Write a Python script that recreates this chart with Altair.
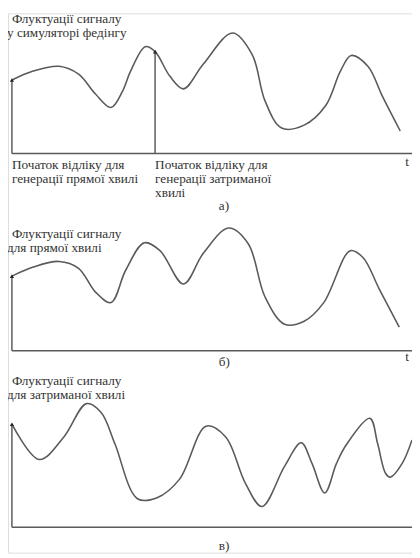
import altair as alt
import pandas as pd

# ---- data (t: time units from axis origin, amp: signal level above axis) ----
a_t   = [0, 21, 48, 68, 85, 101, 113, 121, 136, 146, 161, 175, 195, 225, 245, 258, 275, 298, 320, 335, 346, 363, 378, 396]
a_amp = [75, 84, 89, 81, 61, 47, 64, 84, 109, 104, 79, 66, 91, 123, 101, 54, 26, 29, 49, 84, 100, 89, 58, 23]

b_t   = [0, 21, 48, 68, 85, 101, 116, 135, 151, 175, 195, 221, 241, 258, 278, 298, 318, 345, 358, 375, 395]
b_amp = [76, 85, 91, 84, 60, 49, 82, 110, 102, 68, 99, 125, 109, 55, 27, 30, 49, 102, 95, 62, 24]

c_t   = [0, 28, 53, 76, 91, 105, 128, 148, 171, 198, 218, 238, 255, 278, 295, 306, 319, 331, 341, 365, 373, 381, 386, 398, 408]
c_amp = [105, 69, 92, 126, 117, 85, 29, 30, 49, 103, 92, 45, 21, 62, 86, 65, 35, 65, 84, 111, 85, 55, 51, 65, 89]

panels = ["a", "b", "c"]
titles = {
    "a": ["Флуктуації сигналу", "у симуляторі федінгу"],
    "b": ["Флуктуації сигналу", "для прямої хвилі"],
    "c": ["Флуктуації сигналу", "для затриманої хвилі"],
}
captions = {"a": "а)", "b": "б)", "c": "в)"}
note_direct = ["Початок відліку для", "генерації прямої хвилі"]
note_delayed = ["Початок відліку для", "генерації  затриманої", "хвилі"]
delay_start_t = 146      # start of delayed wave in panel a
t_end = 408

# ---- layout (page-like units; y measured upward from the bottom of the figure) ----
H = 550
base = {"a": 558 - 151, "b": 558 - 352, "c": 558 - 532}   # axis level of each panel

curve_rows = []
for p, ts, amps in (("a", a_t, a_amp), ("b", b_t, b_amp), ("c", c_t, c_amp)):
    for t, v in zip(ts, amps):
        curve_rows.append({"panel": p, "t": t, "y": base[p] + v})
curves = pd.DataFrame(curve_rows)

axis_rows = []
vert_rows = []
for p, ts, amps in (("a", a_t, a_amp), ("b", b_t, b_amp), ("c", c_t, c_amp)):
    axis_rows.append({"panel": p, "t": 0, "t2": t_end + 4, "y": base[p]})
    vert_rows.append({"panel": p, "t": 0, "y": base[p], "y2": base[p] + amps[0]})
vert_rows.append({"panel": "a", "t": delay_start_t, "y": base["a"],
                  "y2": base["a"] + a_amp[a_t.index(delay_start_t)]})
axes_h = pd.DataFrame(axis_rows)
axes_v = pd.DataFrame(vert_rows)

text_rows = []
title_y = {"a": 558 - 14, "b": 558 - 233, "c": 558 - 383}
for p in panels:
    for i, line in enumerate(titles[p]):
        text_rows.append({"t": (0 if i == 0 else -5), "y": title_y[p] - 14 * i, "text": line})
for i, line in enumerate(note_direct):
    text_rows.append({"t": 0, "y": 558 - 163 - 14 * i, "text": line})
for i, line in enumerate(note_delayed):
    text_rows.append({"t": delay_start_t, "y": 558 - 163 - 14 * i, "text": line})
cap_y = {"a": 558 - 205, "b": 558 - 364, "c": 558 - 551}
cap_rows = [{"t": 211, "y": cap_y[p], "text": captions[p]} for p in panels]
t_rows = [{"t": 401, "y": 558 - 160, "text": "t"}, {"t": 401, "y": 558 - 359, "text": "t"}]
texts = pd.DataFrame(text_rows + cap_rows + t_rows)

xs = alt.Scale(domain=[-4, t_end], nice=False, zero=False)
ys = alt.Scale(domain=[0, H], nice=False, zero=False)
X = lambda f: alt.X(f, type="quantitative", scale=xs, axis=None)
Y = lambda f: alt.Y(f, type="quantitative", scale=ys, axis=None)

GRAY = "#5a5a5a"
FONT = "Times New Roman"

curve_layer = alt.Chart(curves).mark_line(
    interpolate="catmull-rom", color=GRAY, strokeWidth=1.6
).encode(x=X("t"), y=Y("y"), detail="panel:N")

h_layer = alt.Chart(axes_h).mark_rule(color=GRAY, strokeWidth=1.5, clip=False).encode(
    x=X("t"), x2="t2", y=Y("y"))
v_layer = alt.Chart(axes_v).mark_rule(color=GRAY, strokeWidth=1.5).encode(
    x=X("t"), y=Y("y"), y2="y2")
arrow_layer = alt.Chart(axes_v).mark_point(
    shape="triangle-up", filled=True, color="#222", size=18, opacity=1
).encode(x=X("t"), y=Y("y2"))

text_layer = alt.Chart(texts).mark_text(
    align="left", baseline="middle", font=FONT, fontSize=13.5, color="#333"
).encode(x=X("t"), y=Y("y"), text="text:N")

chart = alt.layer(h_layer, v_layer, curve_layer, arrow_layer, text_layer).properties(
    width=412, height=H, autosize="none", padding=0
).configure_view(stroke=None).configure(background="white")

chart.save("out.html", embed_options={"renderer": "svg", "actions": False})
